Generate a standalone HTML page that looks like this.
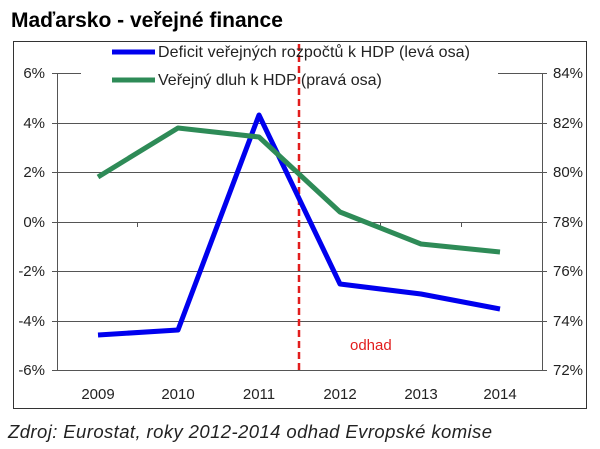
<!DOCTYPE html>
<html><head><meta charset="utf-8"><style>
body{margin:0;background:#fff;width:600px;height:444px;overflow:hidden;font-family:"Liberation Sans",Arial,sans-serif}
</style></head><body>
<svg width="600" height="444" xmlns="http://www.w3.org/2000/svg" font-family="Liberation Sans, Arial, sans-serif">
<text x="11" y="27" font-size="21" font-weight="bold" fill="#000">Maďarsko - veřejné finance</text>
<rect x="13.5" y="41.5" width="573" height="367" fill="#fff" stroke="#333" stroke-width="1"/>
<g stroke="#555" stroke-width="1">
<line x1="57" y1="73.5" x2="542" y2="73.5"/>
<line x1="57" y1="123.5" x2="542" y2="123.5"/>
<line x1="57" y1="172.5" x2="542" y2="172.5"/>
<line x1="57" y1="222.5" x2="542" y2="222.5"/>
<line x1="57" y1="271.5" x2="542" y2="271.5"/>
<line x1="57" y1="321.5" x2="542" y2="321.5"/>
<line x1="57" y1="370.5" x2="542" y2="370.5"/>
<line x1="57.5" y1="73" x2="57.5" y2="371"/>
<line x1="542.5" y1="73" x2="542.5" y2="371"/>
<g>
<line x1="52" y1="73.5" x2="57" y2="73.5"/><line x1="52" y1="123.5" x2="57" y2="123.5"/><line x1="52" y1="172.5" x2="57" y2="172.5"/><line x1="52" y1="222.5" x2="57" y2="222.5"/><line x1="52" y1="271.5" x2="57" y2="271.5"/><line x1="52" y1="321.5" x2="57" y2="321.5"/><line x1="52" y1="370.5" x2="57" y2="370.5"/>
<line x1="542" y1="73.5" x2="547" y2="73.5"/><line x1="542" y1="123.5" x2="547" y2="123.5"/><line x1="542" y1="172.5" x2="547" y2="172.5"/><line x1="542" y1="222.5" x2="547" y2="222.5"/><line x1="542" y1="271.5" x2="547" y2="271.5"/><line x1="542" y1="321.5" x2="547" y2="321.5"/><line x1="542" y1="370.5" x2="547" y2="370.5"/>
<line x1="137.5" y1="222" x2="137.5" y2="227"/><line x1="218.5" y1="222" x2="218.5" y2="227"/><line x1="299.5" y1="222" x2="299.5" y2="227"/><line x1="380.5" y1="222" x2="380.5" y2="227"/><line x1="461.5" y1="222" x2="461.5" y2="227"/>
</g></g>
<rect x="81" y="43" width="417" height="52" fill="#fff"/>
<g font-size="15" fill="#222" text-anchor="end">
<text x="45" y="78">6%</text><text x="45" y="128">4%</text><text x="45" y="177">2%</text><text x="45" y="227">0%</text><text x="45" y="276">-2%</text><text x="45" y="326">-4%</text><text x="45" y="375">-6%</text>
</g>
<g font-size="15" fill="#222">
<text x="553" y="78">84%</text><text x="553" y="128">82%</text><text x="553" y="177">80%</text><text x="553" y="227">78%</text><text x="553" y="276">76%</text><text x="553" y="326">74%</text><text x="553" y="375">72%</text>
</g>
<g font-size="15" fill="#222" text-anchor="middle">
<text x="98" y="399">2009</text><text x="178" y="399">2010</text><text x="259" y="399">2011</text><text x="340" y="399">2012</text><text x="421" y="399">2013</text><text x="500" y="399">2014</text>
</g>
<line x1="299" y1="44" x2="299" y2="370" stroke="#e21d1d" stroke-width="2.5" stroke-dasharray="7,4"/>
<text x="350" y="350" font-size="15" fill="#e21d1d">odhad</text>
<polyline points="98,335 178,330 259,115 340,284 421,294 500,309" fill="none" stroke="#0000ee" stroke-width="5" stroke-linejoin="round"/>
<polyline points="98,177 178,128 259,137 340,212 421,244 500,252" fill="none" stroke="#2e8b57" stroke-width="5" stroke-linejoin="round"/>
<line x1="112" y1="52" x2="155" y2="52" stroke="#0000ee" stroke-width="5"/>
<line x1="112" y1="80" x2="155" y2="80" stroke="#2e8b57" stroke-width="5"/>
<text x="158" y="57" font-size="16" fill="#222" textLength="312">Deficit veřejných rozpočtů k HDP (levá osa)</text>
<text x="158" y="85" font-size="16" fill="#222">Veřejný dluh k HDP (pravá osa)</text>
<text x="8" y="438" font-size="18.5" font-style="italic" fill="#222" textLength="484">Zdroj: Eurostat, roky 2012-2014 odhad Evropské komise</text>
</svg>
</body></html>
